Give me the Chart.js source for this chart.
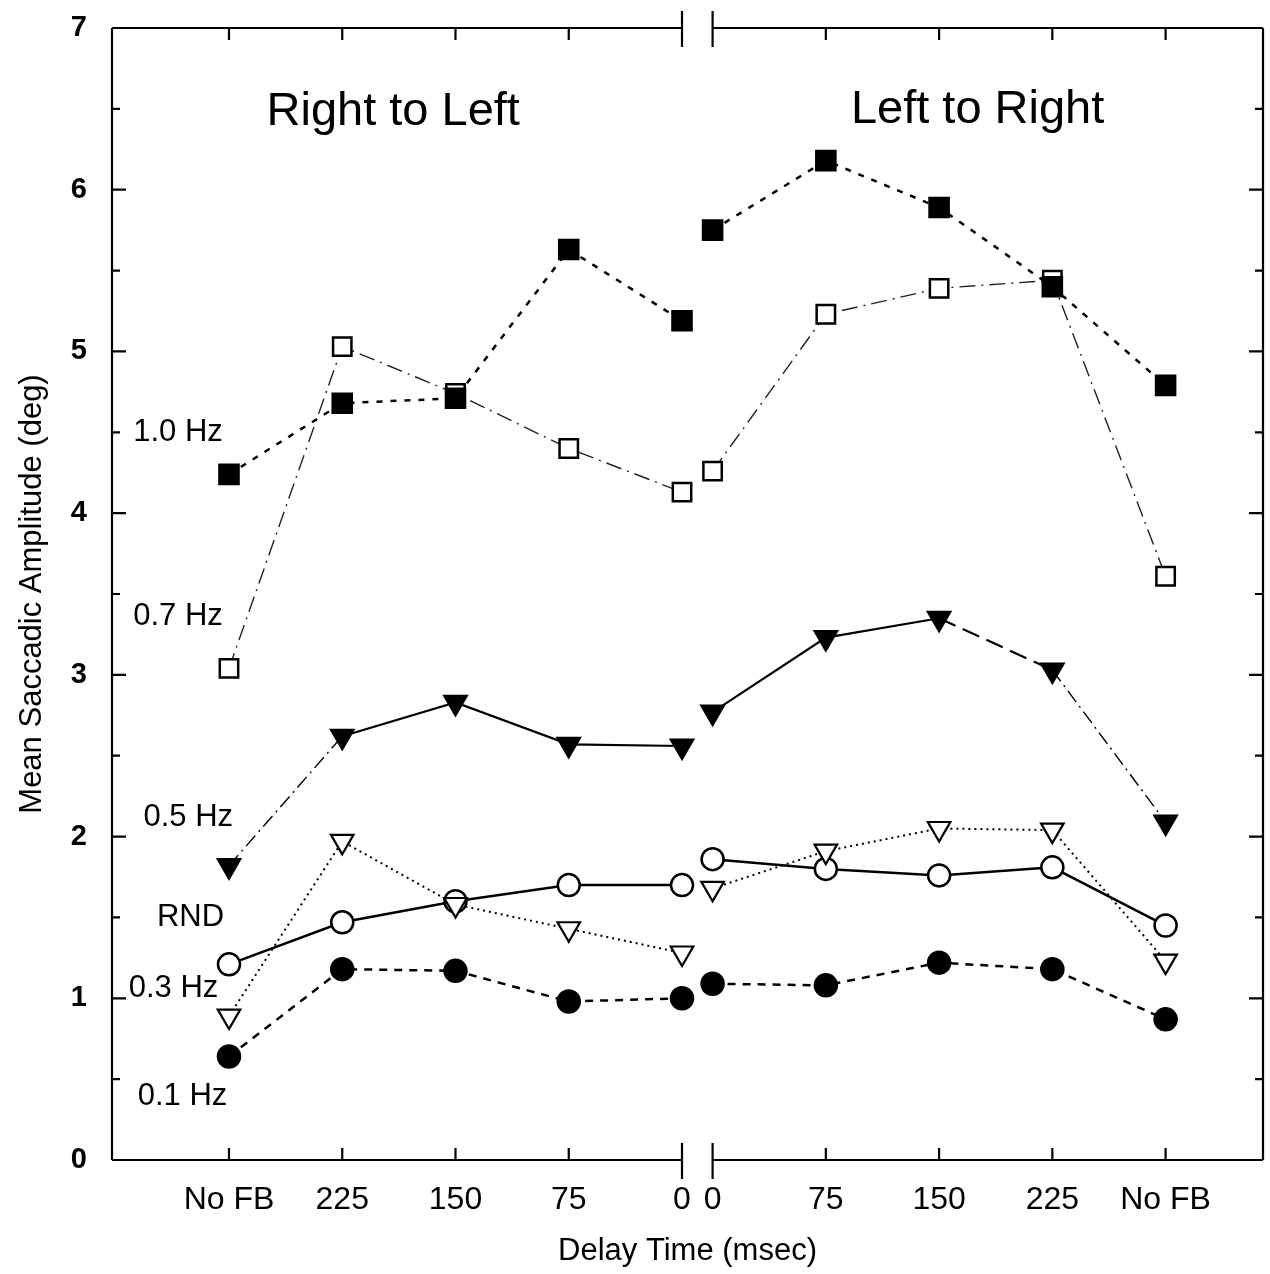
<!DOCTYPE html>
<html>
<head>
<meta charset="utf-8">
<script src="https://cdn.jsdelivr.net/npm/chart.js@4.4.1/dist/chart.umd.min.js"></script>
<style>
  html, body { margin: 0; padding: 0; background: #fff; }
  #wrap { width: 1270px; height: 1274px; }
</style>
</head>
<body>
<div id="wrap"><canvas id="chart" width="1270" height="1274"></canvas></div>
<script>
// delay conditions, right-to-left block then left-to-right block
const delayLabels = ['No FB', '225', '150', '75', '0', '0', '75', '150', '225', 'No FB'];

// mean saccadic amplitude (deg) per stimulus frequency
const hz10 = [4.24, 4.68, 4.71, 5.63, 5.19, 5.75, 6.18, 5.89, 5.40, 4.79];
const hz07 = [3.04, 5.03, 4.74, 4.40, 4.13, 4.26, 5.23, 5.39, 5.44, 3.61];
const hz05 = [1.82, 2.62, 2.83, 2.57, 2.56, 2.77, 3.23, 3.35, 3.03, 2.09];
const hz03 = [0.89, 1.97, 1.58, 1.43, 1.28, 1.68, 1.91, 2.05, 2.04, 1.23];
const rnd  = [1.21, 1.47, 1.60, 1.70, 1.70, 1.86, 1.80, 1.76, 1.81, 1.45];
const hz01 = [0.64, 1.18, 1.17, 0.98, 1.00, 1.09, 1.08, 1.22, 1.18, 0.87];

const FONT = "'Liberation Sans', Arial, Helvetica, sans-serif";
const BREAK_GAP = 0.27;
// second block starts right after the axis break
const xAt = i => (i < 5 ? i : i - 1 + BREAK_GAP);

// null point in the middle so the two blocks are not joined
function points(values) {
  const pts = values.map((v, i) => ({ x: xAt(i), y: v }));
  pts.splice(5, 0, { x: 4 + BREAK_GAP / 2, y: null });
  return pts;
}

function series(label, values, style) {
  return Object.assign({
    label: label,
    data: points(values),
    borderColor: '#000',
    pointBorderColor: '#000',
    pointBackgroundColor: '#000',
    borderWidth: 2,
    fill: false,
    tension: 0
  }, style);
}

const DASH_DOT = [14, 5, 2, 5];

const framePlugin = {
  id: 'frame',
  afterDraw(chart) {
    const { ctx, chartArea: a, scales: { x, y } } = chart;
    const b1 = x.getPixelForValue(4);
    const b2 = x.getPixelForValue(4 + BREAK_GAP);
    ctx.save();
    ctx.strokeStyle = '#000';
    ctx.lineWidth = 2.2;
    ctx.beginPath();
    // left / right
    ctx.moveTo(a.left, a.top); ctx.lineTo(a.left, a.bottom);
    ctx.moveTo(a.right, a.top); ctx.lineTo(a.right, a.bottom);
    // top and bottom with the break
    [a.top, a.bottom].forEach(py => {
      ctx.moveTo(a.left, py); ctx.lineTo(b1, py);
      ctx.moveTo(b2, py); ctx.lineTo(a.right, py);
      ctx.moveTo(b1, py - 17); ctx.lineTo(b1, py + 19);
      ctx.moveTo(b2, py - 17); ctx.lineTo(b2, py + 19);
    });
    // y ticks, both sides, pointing in
    for (let v = 0.5; v < 7; v += 0.5) {
      const py = y.getPixelForValue(v);
      const len = Number.isInteger(v) ? 14 : 8;
      ctx.moveTo(a.left, py); ctx.lineTo(a.left + len, py);
      ctx.moveTo(a.right, py); ctx.lineTo(a.right - len, py);
    }
    // x ticks, top and bottom
    delayLabels.forEach((_, i) => {
      if (i === 4 || i === 5) return;
      const px = x.getPixelForValue(xAt(i));
      ctx.moveTo(px, a.bottom); ctx.lineTo(px, a.bottom - 12);
      ctx.moveTo(px, a.top); ctx.lineTo(px, a.top + 12);
    });
    ctx.stroke();

    // panel titles and series tags
    ctx.fillStyle = '#000';
    ctx.textAlign = 'center';
    ctx.textBaseline = 'middle';
    ctx.font = '47px ' + FONT;
    ctx.fillText('Right to Left', x.getPixelForValue(1.45), y.getPixelForValue(6.48));
    ctx.fillText('Left to Right', x.getPixelForValue(6.61), y.getPixelForValue(6.49));

    ctx.font = '31px ' + FONT;
    const tags = [
      ['1.0 Hz', -0.45, 4.50],
      ['0.7 Hz', -0.45, 3.36],
      ['0.5 Hz', -0.36, 2.12],
      ['RND', -0.34, 1.50],
      ['0.3 Hz', -0.49, 1.06],
      ['0.1 Hz', -0.41, 0.39]
    ];
    tags.forEach(([t, vx, vy]) => ctx.fillText(t, x.getPixelForValue(vx), y.getPixelForValue(vy)));
    ctx.restore();
  }
};

new Chart(document.getElementById('chart'), {
  type: 'line',
  data: {
    datasets: [
      series('1.0 Hz', hz10, { borderDash: [6, 8], borderWidth: 2.5, pointStyle: 'rect', pointRadius: 13.5 }),
      series('0.7 Hz', hz07, { borderDash: [16, 6, 2, 6], borderWidth: 1.4, borderColor: '#222',
        pointStyle: 'rect', pointRadius: 13, pointBackgroundColor: '#fff', pointBorderWidth: 2.5 }),
      series('0.5 Hz', hz05, { borderWidth: 2.2, pointStyle: 'triangle', pointRotation: 180, pointRadius: 13,
        segment: {
          borderDash: c => ({ 0: DASH_DOT, 8: [18, 8], 9: DASH_DOT })[c.p0DataIndex] || [],
          borderWidth: c => (c.p0DataIndex === 0 || c.p0DataIndex === 9 ? 1.4 : 2.2)
        } }),
      series('0.3 Hz', hz03, { borderDash: [2, 4], borderWidth: 2, pointStyle: 'triangle',
        pointRotation: 180, pointRadius: 13, pointBackgroundColor: '#fff', pointBorderWidth: 2.2 }),
      series('RND', rnd, { borderWidth: 2.5, pointStyle: 'circle', pointRadius: 11,
        pointBackgroundColor: '#fff', pointBorderWidth: 2.5 }),
      series('0.1 Hz', hz01, { borderDash: [8, 7], borderWidth: 2.5, pointStyle: 'circle', pointRadius: 11 })
    ]
  },
  options: {
    responsive: false,
    animation: false,
    spanGaps: false,
    layout: { autoPadding: false, padding: { top: 28, right: 7, left: 0, bottom: 0 } },
    plugins: { legend: { display: false }, tooltip: { enabled: false } },
    scales: {
      x: {
        type: 'linear',
        min: -1.033,
        max: 9.13,
        afterBuildTicks: s => { s.ticks = delayLabels.map((_, i) => ({ value: xAt(i) })); },
        afterFit: s => { s.height = 114; s.paddingLeft = 0; s.paddingRight = 0; },
        grid: { display: false, drawTicks: false },
        border: { display: false },
        ticks: {
          autoSkip: false, maxRotation: 0, padding: 21, color: '#000',
          font: { family: FONT, size: 32 },
          callback: (v, i) => delayLabels[i]
        },
        title: { display: true, text: 'Delay Time (msec)', color: '#000',
          font: { family: FONT, size: 31 }, padding: { top: 0, bottom: 4 } }
      },
      y: {
        min: 0,
        max: 7,
        afterFit: s => { s.width = 112; s.paddingTop = 0; s.paddingBottom = 0; },
        grid: { display: false, drawTicks: false },
        border: { display: false },
        ticks: { stepSize: 1, padding: 25, color: '#000', font: { family: FONT, size: 29, weight: 'bold' } },
        title: { display: true, text: 'Mean Saccadic Amplitude (deg)', color: '#000',
          font: { family: FONT, size: 31 }, padding: { top: 14, bottom: 0 } }
      }
    }
  },
  plugins: [framePlugin]
});
</script>
</body>
</html>
